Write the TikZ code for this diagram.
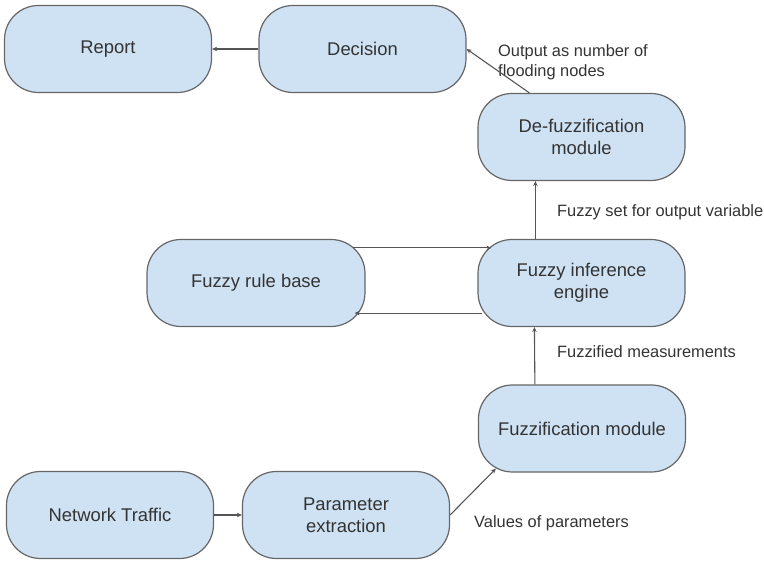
\documentclass[tikz,border=0pt]{standalone}
\usepackage{fontspec}
\setmainfont{Liberation Sans}
\usetikzlibrary{arrows.meta,calc}
\definecolor{boxblue}{HTML}{CFE2F3}
\definecolor{boxline}{HTML}{666666}
\definecolor{inkgray}{HTML}{333333}
\definecolor{arrgray}{HTML}{555555}

\begin{document}
\begin{tikzpicture}[x=1pt, y=-1pt,
  block/.style={rectangle, rounded corners=34pt, fill=boxblue, draw=boxline,
    line width=1.2pt, text=inkgray, align=center, minimum width=207pt,
    minimum height=87pt, font=\fontsize{18.4}{22}\selectfont},
  lbl/.style={anchor=west, align=left, text=inkgray, inner sep=0pt,
    font=\fontsize{16.4}{20}\selectfont},
  arr/.style={draw=arrgray, line width=1.1pt, -{Stealth[length=5pt,width=4.5pt]}}]
\useasboundingbox (0,0) rectangle (764,561);
\node[block] (rep) at (108,49) {Report};
\node[block] (dec) at (362.5,49) {Decision};
\node[block] (defuzz) at (581.5,137) {De-fuzzification\\module};
\node[block] (infer) at (581.5,283) {Fuzzy inference\\engine};
\node[block, minimum width=218pt] (rule) at (256,283) {Fuzzy rule base};
\node[block] (fuzz) at (582,428.5) {Fuzzification module};
\node[block] (net) at (110,515) {Network Traffic};
\node[block] (param) at (346,515) {Parameter\\extraction};
%
%
\node[lbl] (outlbl) at (498,62) {Output as number of\\flooding nodes};
\node[lbl] (setlbl) at (557,212) {Fuzzy set for output variable};
\node[lbl] (measlbl) at (557,352) {Fuzzified measurements};
\node[lbl] (vallbl) at (474,523) {Values of parameters};
%
%
\draw[arr] (dec) -- (rep);
\draw[arr] ([xshift=52pt]defuzz.north west) -- (dec.east);
\draw[arr] ([xshift=58pt]infer.north west) -- ([xshift=58pt]defuzz.south west);
\draw[arr] ([shift={(-13pt,-9pt)}]rule.north east) -- ([shift={(14pt,-9pt)}]infer.north west);
\draw[arr] ([shift={(5pt,14pt)}]infer.south west) -- ([shift={(-11pt,14pt)}]rule.south east);
\draw[arr] ([xshift=57pt]fuzz.north west) -- ([xshift=57pt]infer.south west);
\draw[arr] (net) -- (param);
\draw[arr] (param.east) -- ([shift={(18pt,4pt)}]fuzz.south west);
\end{tikzpicture}
\end{document}
